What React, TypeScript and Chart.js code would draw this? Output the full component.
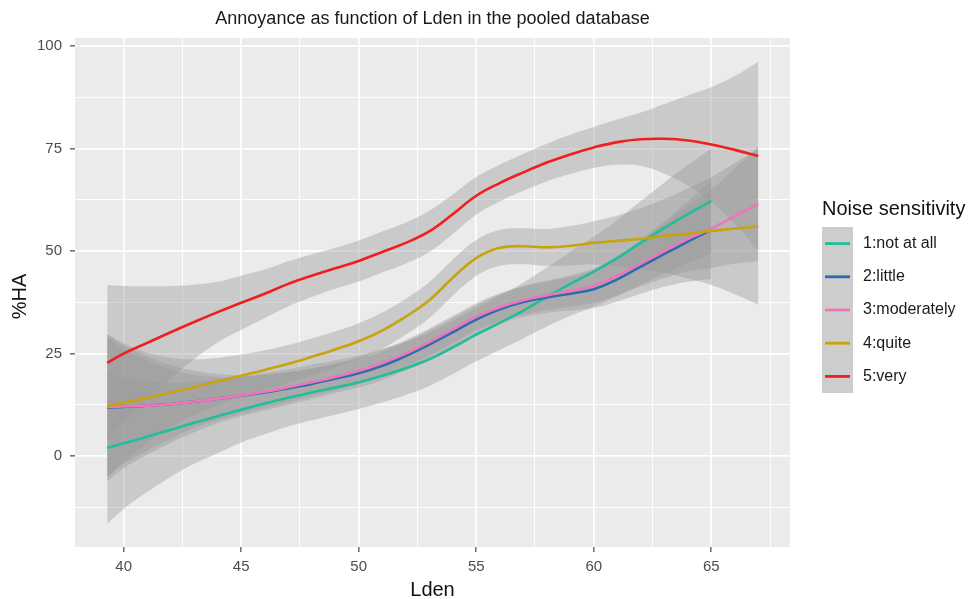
import React, { useEffect, useRef } from "react";
import { Chart, registerables } from "chart.js";

Chart.register(...registerables);

const chartTitle = "Annoyance as function of Lden in the pooled database";
const xTitle = "Lden";
const yTitle = "%HA";
const legendTitle = "Noise sensitivity";

const lden = [39.3, 40, 41, 42, 43, 44, 45, 46, 47, 48, 49, 50, 51, 52, 53, 54, 55, 56, 57, 58, 59, 60, 61, 62, 63, 64, 65, 66, 67];

const xTicks = [40, 42.5, 45, 47.5, 50, 52.5, 55, 57.5, 60, 62.5, 65, 67.5];
const yTicks = [-12.5, 0, 12.5, 25, 37.5, 50, 62.5, 75, 87.5, 100];

const seriesNames = ["1:not at all", "2:little", "3:moderately", "4:quite", "5:very"];
const seriesColors = ["#22BE9A", "#2C6BB0", "#EE76B8", "#C9A30E", "#F01E1E"];

// 1: not at all
const notAtAll = [2, 3.1, 4.7, 6.4, 8.1, 9.7, 11.3, 12.8, 14.2, 15.5, 16.7, 18, 19.6, 21.4, 23.6, 26.5, 29.6, 32.5, 35.5, 38.8, 42, 45, 48.3, 52, 55.6, 59, 62.2, null, null];
const notAtAllHi = [20.5, 19.1, 18.2, 17.9, 18.1, 18.7, 19.3, 20.3, 21.2, 22.3, 23.3, 24.5, 26.1, 27.9, 30.1, 33, 36.1, 39.1, 42.3, 46, 49.8, 53.5, 57.6, 62.2, 66.7, 71, 75, null, null];
const notAtAllLo = [-16.5, -12.9, -8.8, -5.1, -1.9, 0.7, 3.3, 5.3, 7.2, 8.7, 10.1, 11.5, 13.1, 14.9, 17.1, 20, 23.1, 25.9, 28.7, 31.6, 34.2, 36.5, 39, 41.8, 44.5, 47, 49.4, null, null];

// 2: little
const little = [11.8, 12, 12.3, 12.7, 13.3, 14, 14.7, 15.5, 16.5, 17.6, 18.9, 20.2, 22, 24.4, 27.2, 30.2, 33.3, 35.8, 37.6, 38.7, 39.6, 40.7, 43.1, 46.2, 49.3, 52.3, 55.2, null, null];
const littleHi = [29.8, 27, 24.3, 22.2, 20.8, 20, 19.7, 19.9, 20.5, 21.3, 22.4, 23.7, 25.5, 27.9, 30.7, 33.7, 36.8, 39.4, 41.3, 42.5, 43.7, 45.3, 48.5, 52.8, 57.3, 62.1, 67.2, null, null];
const littleLo = [-6.2, -3, 0.3, 3.2, 5.8, 8, 9.7, 11.1, 12.5, 13.9, 15.4, 16.7, 18.5, 20.9, 23.7, 26.7, 29.8, 32.2, 33.9, 34.9, 35.5, 36.1, 37.7, 39.6, 41.3, 42.5, 43.2, null, null];

// 3: moderately
const moderately = [12, 12.1, 12.3, 12.7, 13.3, 14, 14.8, 15.7, 16.8, 18, 19.3, 20.8, 22.7, 25, 27.8, 30.9, 34, 36.3, 38, 39.2, 40.3, 41.6, 44, 47, 50, 53, 55.5, 58.5, 61.5];
const moderatelyHi = [29, 26.1, 23.3, 21.2, 19.8, 19.3, 19.3, 19.7, 20.4, 21.4, 22.6, 24.1, 26, 28.3, 31.1, 34.2, 37.3, 39.7, 41.5, 42.8, 44.1, 45.8, 48.8, 52.6, 56.6, 61, 65.1, 70.1, 75.5];
const moderatelyLo = [-5, -1.9, 1.3, 4.2, 6.8, 8.7, 10.3, 11.7, 13.2, 14.6, 16, 17.5, 19.4, 21.7, 24.5, 27.6, 30.7, 32.9, 34.5, 35.6, 36.5, 37.4, 39.2, 41.4, 43.4, 45, 45.9, 46.9, 47.5];

// 4: quite
const quite = [12.2, 13, 14.2, 15.5, 16.8, 18.2, 19.6, 21, 22.5, 24.2, 26, 28, 30.6, 34, 38, 43.5, 48.3, 50.8, 51.2, 50.9, 51.3, 52, 52.5, 53, 53.7, 54.3, 54.9, 55.5, 56];
const quiteHi = [29.7, 27.5, 25.2, 24, 23.6, 24, 24.8, 25.8, 27.1, 28.7, 30.4, 32.4, 35, 38.4, 42.4, 47.9, 52.7, 55.2, 55.6, 55.4, 56.1, 57.3, 58.7, 60.5, 62.7, 65.3, 68.1, 71.5, 75];
const quiteLo = [-5.3, -1.5, 3.2, 7, 10, 12.4, 14.4, 16.2, 17.9, 19.7, 21.6, 23.6, 26.2, 29.6, 33.6, 39.1, 43.9, 46.4, 46.8, 46.4, 46.5, 46.7, 46.3, 45.5, 44.7, 43.3, 41.7, 39.5, 37];

// 5: very
const very = [22.7, 25, 27.6, 30.2, 32.7, 35.1, 37.4, 39.6, 42, 44, 45.8, 47.6, 49.8, 52, 54.8, 59, 63.5, 66.6, 69.2, 71.6, 73.6, 75.3, 76.6, 77.3, 77.4, 77, 76, 74.7, 73.2];
const veryHi = [41.7, 41.5, 41.4, 41.5, 41.8, 42.5, 44, 45.5, 47.5, 49.2, 50.8, 52.6, 54.8, 57, 59.8, 63.8, 68.1, 71.1, 73.7, 76.2, 78.4, 80.3, 82.1, 83.8, 85.9, 88, 90, 92.7, 96.2];
const veryLo = [3.7, 8.5, 13.8, 18.9, 23.6, 27.7, 30.8, 33.7, 36.5, 38.8, 40.8, 42.6, 44.8, 47, 49.8, 54.2, 58.9, 62.1, 64.7, 67, 68.8, 70.3, 71.1, 70.8, 68.9, 66, 62, 56.7, 50.2];

const fits = [notAtAll, little, moderately, quite, very];
const uppers = [notAtAllHi, littleHi, moderatelyHi, quiteHi, veryHi];
const lowers = [notAtAllLo, littleLo, moderatelyLo, quiteLo, veryLo];

const FONT = "'Liberation Sans', Arial, Helvetica, sans-serif";
const BAND = "rgba(153,153,153,0.4)";

function pts(arr: (number | null)[]) {
  const out: { x: number; y: number }[] = [];
  arr.forEach((v, i) => {
    if (v !== null && v !== undefined) out.push({ x: lden[i], y: v });
  });
  return out;
}

const isMajorX = (v: number) => Math.abs(v % 5) < 1e-9;
const isMajorY = (v: number) => Math.abs(v % 25) < 1e-9;

export default function App() {
  const ref = useRef<HTMLCanvasElement | null>(null);

  useEffect(() => {
    const canvas = ref.current;
    if (!canvas) return;

    const datasets: any[] = [];
    for (let s = 0; s < 5; s++) {
      datasets.push({
        data: pts(lowers[s]),
        borderWidth: 0,
        borderColor: "rgba(0,0,0,0)",
        pointRadius: 0,
        fill: false,
        tension: 0.4,
        order: 1,
      });
      datasets.push({
        data: pts(uppers[s]),
        borderWidth: 0,
        borderColor: "rgba(0,0,0,0)",
        backgroundColor: BAND,
        pointRadius: 0,
        fill: "-1",
        tension: 0.4,
        order: 1,
      });
    }
    for (let s = 4; s >= 0; s--) {
      datasets.push({
        data: pts(fits[s]),
        borderColor: seriesColors[s],
        borderWidth: 2.6,
        pointRadius: 0,
        fill: false,
        tension: 0.4,
        order: 0,
      });
    }

    const decor = {
      id: "decor",
      beforeDraw(chart: any) {
        const { ctx, chartArea: a } = chart;
        ctx.save();
        ctx.fillStyle = "#ffffff";
        ctx.fillRect(0, 0, chart.width, chart.height);
        ctx.fillStyle = "#EBEBEB";
        ctx.fillRect(a.left, a.top, a.right - a.left, a.bottom - a.top);
        ctx.restore();
      },
      afterDraw(chart: any) {
        const { ctx, chartArea: a } = chart;
        ctx.save();
        const cx = (a.left + a.right) / 2;
        ctx.fillStyle = "#1a1a1a";
        ctx.font = `18px ${FONT}`;
        ctx.textAlign = "center";
        ctx.textBaseline = "middle";
        ctx.fillText(chartTitle, cx, 19);
        ctx.fillStyle = "#111111";
        ctx.font = `20px ${FONT}`;
        ctx.fillText(xTitle, cx, 590);
        ctx.save();
        ctx.translate(20, (a.top + a.bottom) / 2 + 4);
        ctx.rotate(-Math.PI / 2);
        ctx.fillText(yTitle, 0, 0);
        ctx.restore();
        const lx = 822;
        ctx.textAlign = "left";
        ctx.fillStyle = "#111111";
        ctx.font = `20px ${FONT}`;
        ctx.fillText(legendTitle, lx, 209);
        const keyTop = 227;
        const keyH = 33.2;
        ctx.fillStyle = "#CDCDCD";
        ctx.fillRect(lx, keyTop, 31, keyH * 5);
        ctx.font = `16px ${FONT}`;
        for (let s = 0; s < 5; s++) {
          const y = keyTop + keyH * s + keyH / 2;
          ctx.strokeStyle = seriesColors[s];
          ctx.lineWidth = 2.8;
          ctx.beginPath();
          ctx.moveTo(lx + 3, y);
          ctx.lineTo(lx + 28, y);
          ctx.stroke();
          ctx.fillStyle = "#1a1a1a";
          ctx.fillText(seriesNames[s], 863, y);
        }
        ctx.restore();
      },
    };

    const chart = new Chart(canvas, {
      type: "line",
      data: { datasets },
      options: {
        animation: false,
        responsive: false,
        maintainAspectRatio: false,
        devicePixelRatio: 1,
        layout: { padding: { left: 0, right: 181, top: 38, bottom: 0 } },
        plugins: {
          legend: { display: false },
          tooltip: { enabled: false },
          title: { display: false },
        },
        scales: {
          x: {
            type: "linear",
            min: 37.93,
            max: 68.35,
            afterBuildTicks: (s: any) => {
              s.ticks = xTicks.map((v) => ({ value: v }));
            },
            afterFit: (s: any) => {
              s.height = 52;
            },
            border: { display: false },
            grid: {
              color: "#ffffff",
              lineWidth: (c: any) => (c.tick && isMajorX(c.tick.value) ? 1.7 : 0.9),
              drawTicks: true,
              tickLength: 5,
              tickWidth: 1.2,
              tickColor: (c: any) => (c.tick && isMajorX(c.tick.value) ? "#444444" : "rgba(0,0,0,0)"),
            },
            ticks: {
              autoSkip: false,
              maxRotation: 0,
              minRotation: 0,
              padding: 6,
              color: "#4D4D4D",
              font: { family: FONT, size: 15 },
              callback: (v: any) => (isMajorX(Number(v)) ? String(v) : ""),
            },
          },
          y: {
            type: "linear",
            min: -22.2,
            max: 102,
            afterBuildTicks: (s: any) => {
              s.ticks = yTicks.map((v) => ({ value: v }));
            },
            afterFit: (s: any) => {
              s.width = 75;
            },
            border: { display: false },
            grid: {
              color: "#ffffff",
              lineWidth: (c: any) => (c.tick && isMajorY(c.tick.value) ? 1.7 : 0.9),
              drawTicks: true,
              tickLength: 5,
              tickWidth: 1.2,
              tickColor: (c: any) => (c.tick && isMajorY(c.tick.value) ? "#444444" : "rgba(0,0,0,0)"),
            },
            ticks: {
              autoSkip: false,
              padding: 8,
              color: "#4D4D4D",
              font: { family: FONT, size: 15 },
              callback: (v: any) => (isMajorY(Number(v)) ? String(v) : ""),
            },
          },
        },
      },
      plugins: [decor],
    } as any);

    return () => {
      chart.destroy();
    };
  }, []);

  return (
    <div style={{ position: "fixed", left: 0, top: 0, width: 971, height: 599, background: "#ffffff" }}>
      <canvas ref={ref} width={971} height={599} style={{ display: "block", width: 971, height: 599 }} />
    </div>
  );
}
